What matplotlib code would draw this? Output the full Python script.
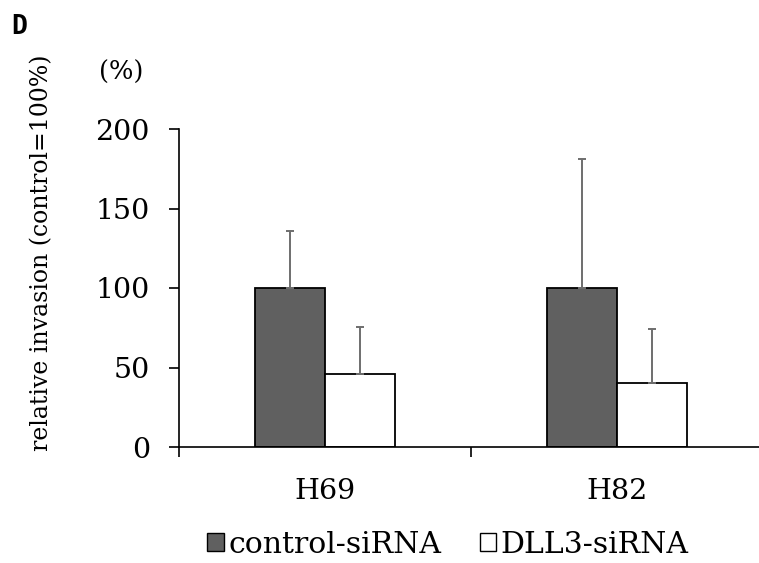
import matplotlib
matplotlib.use("Agg")
import matplotlib.pyplot as plt
import numpy as np
from matplotlib.patches import Patch

categories = ["H69", "H82"]
series_names = ["control-siRNA", "DLL3-siRNA"]
control_vals = [100, 100]
control_err = [36, 81]
dll3_vals = [46, 40]
dll3_err = [29.5, 34]
yticks = [0, 50, 100, 150, 200]

plt.rcParams['font.family'] = ['DejaVu Serif']

fig = plt.figure(figsize=(7.59, 5.63), dpi=100)
ax = fig.add_axes([179/759, 116/563, 584/759, 318/563])

x = np.arange(len(categories)) + 0.5
w = 0.24
ecol = "#6e6e6e"
ax.bar(x - w/2, control_vals, w, color="#606060", edgecolor="black", linewidth=1.3,
       yerr=[[0]*2, control_err], error_kw=dict(ecolor=ecol, elinewidth=1.4, capsize=3.2, capthick=1.4), zorder=2)
ax.bar(x + w/2, dll3_vals, w, color="white", edgecolor="black", linewidth=1.3,
       yerr=[[0]*2, dll3_err], error_kw=dict(ecolor=ecol, elinewidth=1.4, capsize=3.2, capthick=1.4), zorder=2)

ax.set_xlim(0, 2)
ax.set_ylim(0, 200)
ax.set_yticks(yticks)
ax.set_xticks(x)
ax.set_xticklabels(categories)
ax.set_xticks([0, 1, 2], minor=True)
ax.tick_params(axis='x', which='major', length=0, pad=22, labelsize=20.5)
ax.tick_params(axis='x', which='minor', length=7, width=1.2, direction='out')
ax.tick_params(axis='y', length=7, width=1.2, direction='out', labelsize=20.5, pad=14)
for s in ["top", "right"]:
    ax.spines[s].set_visible(False)
for s in ["left", "bottom"]:
    ax.spines[s].set_linewidth(1.2)

fig.text(42/759, 1 - 253/563, "relative invasion (control=100%)", rotation=90,
         ha="center", va="center", fontsize=17)
fig.text(121/759, 1 - 72/563, "(%)", ha="center", va="center", fontsize=18.5)
fig.text(19/759, 1 - 27/563, "D", ha="center", va="center", fontsize=19,
         family="DejaVu Sans Mono", fontweight="bold")

handles = [Patch(facecolor="#606060", edgecolor="black", linewidth=1.0),
           Patch(facecolor="white", edgecolor="black", linewidth=1.0)]
fig.legend(handles, series_names, loc="center", bbox_to_anchor=(448/759, 1 - 545/563),
           ncol=2, frameon=False, fontsize=21.5, handlelength=0.55, handleheight=0.55,
           handletextpad=0.15, columnspacing=1.3)

fig.savefig("out.png", dpi=100)
